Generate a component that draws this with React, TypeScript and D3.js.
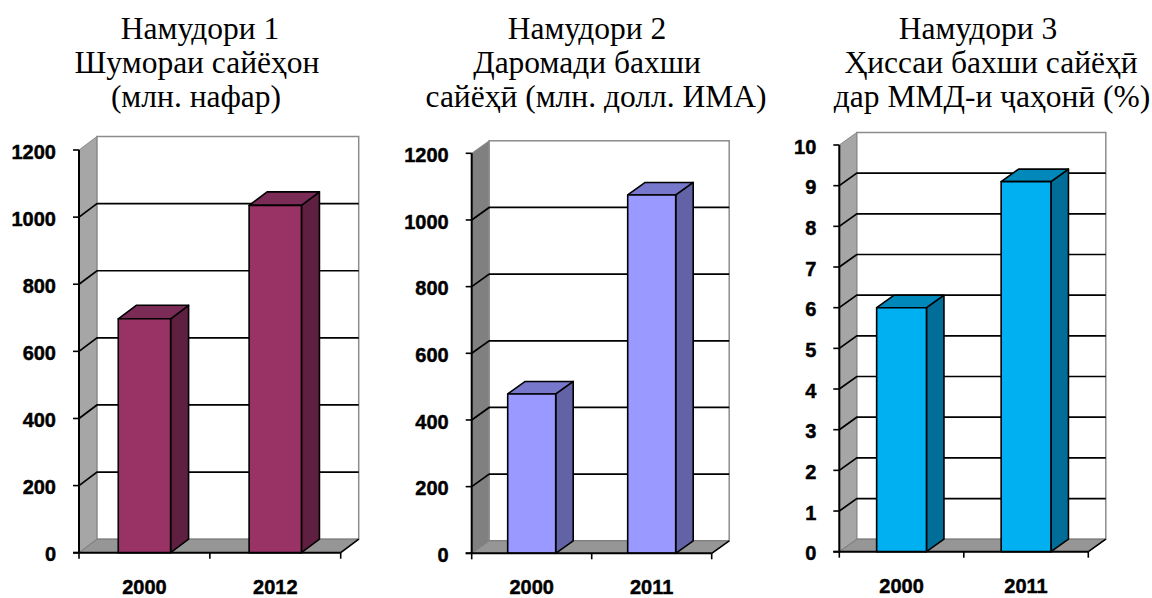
import React from "react";
import * as d3 from "d3";

// ---- data ----
const titles1 = ["Намудори 1", "Шумораи сайёҳон", "(млн. нафар)"];
const categories1 = ["2000", "2012"];
const values1 = [697, 1035];
const yTicks1 = [0, 200, 400, 600, 800, 1000, 1200];

const titles2 = ["Намудори 2", "Даромади бахши", "сайёҳӣ (млн. долл. ИМА)"];
const categories2 = ["2000", "2011"];
const values2 = [478, 1075];
const yTicks2 = [0, 200, 400, 600, 800, 1000, 1200];

const titles3 = ["Намудори 3", "Ҳиссаи бахши сайёҳӣ", "дар ММД-и ҷаҳонӣ (%)"];
const categories3 = ["2000", "2011"];
const values3 = [6.0, 9.1];
const yTicks3 = [0, 1, 2, 3, 4, 5, 6, 7, 8, 9, 10];

// ---- layout / style ----
type Layout = {
  axisX: number; xRight: number; yTop: number; yBottom: number;
  dx: number; dy: number; titleX: number[]; sideWall: string;
  front: string; top: string; side: string;
};

const layout1: Layout = { axisX: 79, xRight: 340.7, yTop: 150, yBottom: 552.7, dx: 18, dy: 13.5,
  titleX: [200, 197, 196], sideWall: "#a6a6a6", front: "#993366", top: "#7b2c56", side: "#5f1f40" };
const layout2: Layout = { axisX: 471.7, xRight: 711.7, yTop: 153.3, yBottom: 553.3, dx: 17.5, dy: 12.5,
  titleX: [587, 587, 596], sideWall: "#808080", front: "#9999ff", top: "#7777cc", side: "#6262a6" };
const layout3: Layout = { axisX: 839.3, xRight: 1088.3, yTop: 145, yBottom: 551.7, dx: 17.5, dy: 12.5,
  titleX: [978, 991, 992], sideWall: "#a6a6a6", front: "#00b0f0", top: "#0088bb", side: "#006e98" };

const titleBaselines = [39, 73, 107];

function Panel({ titles, categories, values, ticks, L }: {
  titles: string[]; categories: string[]; values: number[]; ticks: number[]; L: Layout;
}) {
  const yMax = d3.max(ticks)!;
  const y = d3.scaleLinear().domain([0, yMax]).range([L.yBottom, L.yTop]);
  const x = d3.scaleBand<string>().domain(categories).range([L.axisX, L.xRight])
    .paddingInner(0.6).paddingOuter(0.3);
  const { dx, dy } = L;
  const bx0 = L.axisX + dx, bx1 = L.xRight + dx;
  const xTicks = [L.axisX, ...categories.slice(1).map((c) => x(c)! - (x.step() - x.bandwidth()) / 2), L.xRight];
  const xLabelY = Math.min(L.yBottom + 41.5, 593.5);
  return (
    <g>
      {titles.map((t, i) => (
        <text key={i} x={L.titleX[i]} y={titleBaselines[i]} textAnchor="middle"
          fontFamily="Liberation Serif" fontSize={31.5} fill="#000">{t}</text>
      ))}
      {/* side wall */}
      <path d={`M${L.axisX},${y(0)}L${L.axisX},${y(yMax)}L${bx0},${y(yMax) - dy}L${bx0},${y(0) - dy}Z`}
        fill={L.sideWall} stroke="#8a8a8a" strokeWidth={1} />
      {/* back wall */}
      <rect x={bx0} y={y(yMax) - dy} width={bx1 - bx0} height={y(0) - y(yMax)} fill="#fff"
        stroke="#8c8c8c" strokeWidth={1.5} />
      {/* floor */}
      <path d={`M${L.axisX},${y(0)}L${bx0},${y(0) - dy}L${bx1},${y(0) - dy}L${L.xRight},${y(0)}Z`}
        fill="#969696" stroke="#7a7a7a" strokeWidth={1} />
      <line x1={bx1} y1={y(0) - dy} x2={L.xRight} y2={y(0)} stroke="#000" strokeWidth={1.6} />
      {/* gridlines */}
      {ticks.filter((t) => t > 0 && t < yMax).map((t) => (
        <path key={t} d={`M${L.axisX},${y(t)}L${bx0},${y(t) - dy}L${bx1},${y(t) - dy}`}
          fill="none" stroke="#000" strokeWidth={1.7} />
      ))}
      {/* bars */}
      {categories.map((c, i) => {
        const x0 = x(c)!, x1 = x0 + x.bandwidth();
        const yt = y(values[i]), yb = y(0);
        return (
          <g key={c} stroke="#000" strokeWidth={1.6} strokeLinejoin="round">
            <path d={`M${x1},${yb}L${x1},${yt}L${x1 + dx},${yt - dy}L${x1 + dx},${yb - dy}Z`} fill={L.side} />
            <path d={`M${x0},${yt}L${x0 + dx},${yt - dy}L${x1 + dx},${yt - dy}L${x1},${yt}Z`} fill={L.top} />
            <rect x={x0} y={yt} width={x1 - x0} height={yb - yt} fill={L.front} />
          </g>
        );
      })}
      {/* axes */}
      <line x1={L.axisX} y1={y(yMax)} x2={L.axisX} y2={y(0)} stroke="#000" strokeWidth={2} />
      <line x1={L.axisX - 6} y1={y(0)} x2={L.xRight} y2={y(0)} stroke="#000" strokeWidth={2} />
      {ticks.map((t) => (
        <g key={t}>
          <line x1={L.axisX - 6} x2={L.axisX} y1={y(t)} y2={y(t)} stroke="#000" strokeWidth={1.6} />
          <text x={L.axisX - 23} y={y(t)} dy="0.43em" textAnchor="end" stroke="#000" strokeWidth={0.45}
            fontFamily="Liberation Sans" fontWeight="bold" fontSize={20}>{t}</text>
        </g>
      ))}
      {xTicks.map((tx, i) => (
        <line key={i} x1={tx} x2={tx} y1={y(0)} y2={y(0) + 6} stroke="#000" strokeWidth={1.6} />
      ))}
      {categories.map((c) => (
        <text key={c} x={x(c)! + x.bandwidth() / 2} y={xLabelY} textAnchor="middle"
          stroke="#000" strokeWidth={0.45}
          fontFamily="Liberation Sans" fontWeight="bold" fontSize={20}>{c}</text>
      ))}
    </g>
  );
}

export default function App() {
  return (
    <svg width={1152} height={598} style={{ position: "absolute", left: 0, top: 0, background: "#fff" }}>
      <rect width={1152} height={598} fill="#fff" />
      <Panel titles={titles1} categories={categories1} values={values1} ticks={yTicks1} L={layout1} />
      <Panel titles={titles2} categories={categories2} values={values2} ticks={yTicks2} L={layout2} />
      <Panel titles={titles3} categories={categories3} values={values3} ticks={yTicks3} L={layout3} />
    </svg>
  );
}
